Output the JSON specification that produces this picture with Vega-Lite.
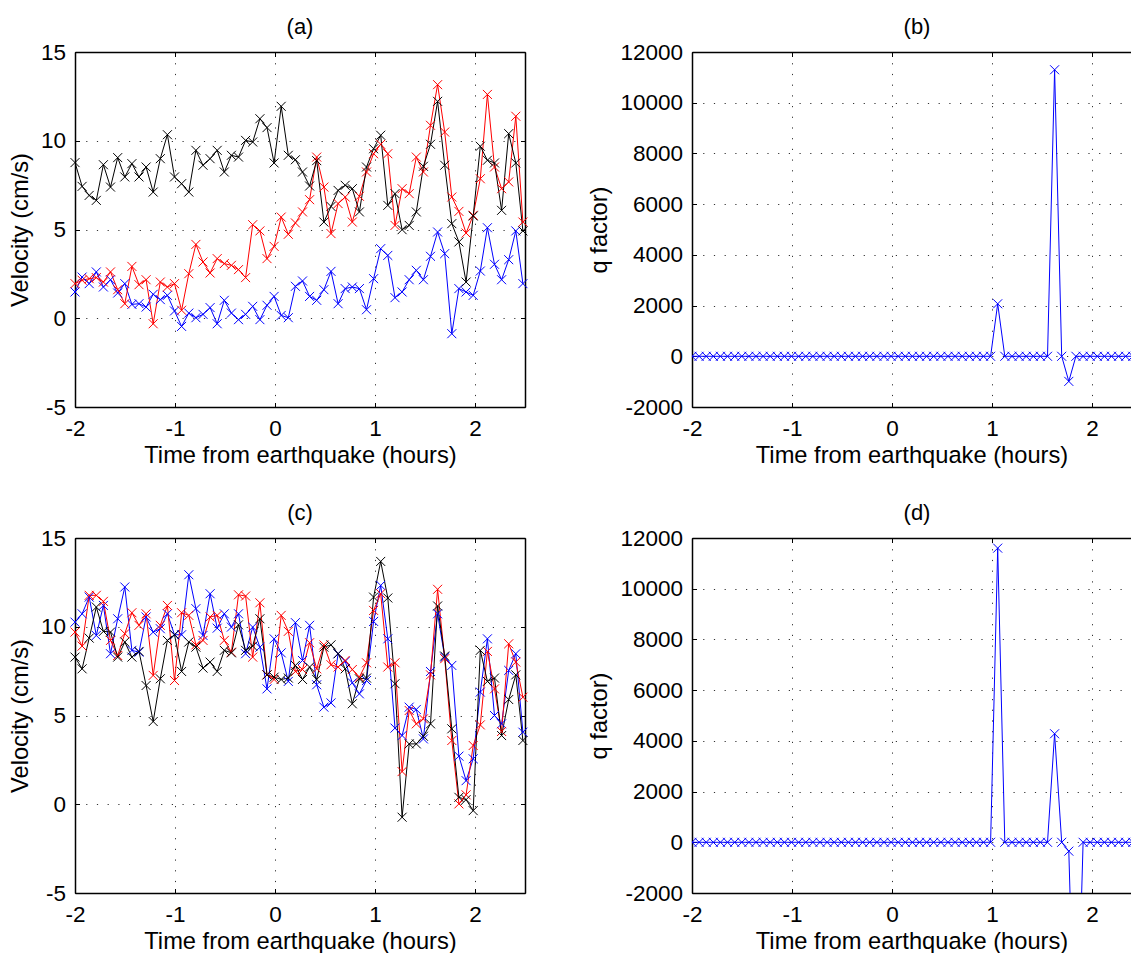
{
"$schema": "https://vega.github.io/schema/vega-lite/v6.json",
"padding": {"left": 8, "top": 15, "right": 0, "bottom": 0},
"autosize": {"type": "pad"},
"background": "white",
"config": {
 "view": {"stroke": null},
 "font": "Liberation Sans",
 "axis": {"domainColor": "#000", "domainWidth": 1.5, "tickColor": "#000", "tickWidth": 1, "tickSize": -4.5, "labelFont": "Liberation Sans", "titleFont": "Liberation Sans", "labelFontSize": 22.5, "titleFontSize": 23.7, "titleFontWeight": "normal", "labelColor": "#000", "titleColor": "#000", "gridColor": "#000", "gridOpacity": 0.8, "gridDash": [1.2, 9.5], "gridWidth": 1, "labelFlush": false, "labelOverlap": false, "labelBound": false},
 "axisX": {"labelPadding": 15.25, "titlePadding": 3},
 "axisY": {"labelPadding": 14, "titlePadding": 8},
 "title": {"fontSize": 22, "font": "Liberation Sans", "fontWeight": "normal", "color": "#000", "baseline": "alphabetic", "offset": 2.5}
},
"datasets": {
 "va": [
{"t":-2,"s":"s1","v":1.48},{"t":-1.929,"s":"s1","v":2.32},{"t":-1.858,"s":"s1","v":1.95},{"t":-1.787,"s":"s1","v":2.61},{"t":-1.716,"s":"s1","v":1.76},{"t":-1.645,"s":"s1","v":2.17},{"t":-1.573,"s":"s1","v":1.42},{"t":-1.502,"s":"s1","v":1.95},{"t":-1.431,"s":"s1","v":0.78},{"t":-1.36,"s":"s1","v":0.82},
{"t":-1.289,"s":"s1","v":0.63},{"t":-1.218,"s":"s1","v":1.35},{"t":-1.147,"s":"s1","v":1.05},{"t":-1.076,"s":"s1","v":1.29},{"t":-1.005,"s":"s1","v":0.41},{"t":-0.934,"s":"s1","v":-0.46},{"t":-0.862,"s":"s1","v":0.29},{"t":-0.791,"s":"s1","v":0.03},{"t":-0.72,"s":"s1","v":0.22},{"t":-0.649,"s":"s1","v":0.6},
{"t":-0.578,"s":"s1","v":-0.31},{"t":-0.507,"s":"s1","v":1.01},{"t":-0.436,"s":"s1","v":0.29},{"t":-0.365,"s":"s1","v":-0.08},{"t":-0.294,"s":"s1","v":0.22},{"t":-0.223,"s":"s1","v":0.67},{"t":-0.151,"s":"s1","v":-0.08},{"t":-0.08,"s":"s1","v":0.73},{"t":-0.009,"s":"s1","v":1.23},{"t":0.062,"s":"s1","v":0.16},
{"t":0.133,"s":"s1","v":0.03},{"t":0.204,"s":"s1","v":1.8},{"t":0.275,"s":"s1","v":2.1},{"t":0.346,"s":"s1","v":1.23},{"t":0.417,"s":"s1","v":1.01},{"t":0.489,"s":"s1","v":1.61},{"t":0.56,"s":"s1","v":2.64},{"t":0.631,"s":"s1","v":0.82},{"t":0.702,"s":"s1","v":1.67},{"t":0.773,"s":"s1","v":1.76},
{"t":0.844,"s":"s1","v":1.67},{"t":0.915,"s":"s1","v":0.48},{"t":0.986,"s":"s1","v":2.23},{"t":1.057,"s":"s1","v":3.92},{"t":1.128,"s":"s1","v":3.54},{"t":1.2,"s":"s1","v":1.16},{"t":1.271,"s":"s1","v":1.48},{"t":1.342,"s":"s1","v":2.17},{"t":1.413,"s":"s1","v":2.7},{"t":1.484,"s":"s1","v":2.17},
{"t":1.555,"s":"s1","v":3.49},{"t":1.626,"s":"s1","v":4.86},{"t":1.697,"s":"s1","v":3.64},{"t":1.768,"s":"s1","v":-0.87},{"t":1.839,"s":"s1","v":1.67},{"t":1.911,"s":"s1","v":1.48},{"t":1.982,"s":"s1","v":1.29},{"t":2.053,"s":"s1","v":2.66},{"t":2.124,"s":"s1","v":5.1},{"t":2.195,"s":"s1","v":3.04},
{"t":2.266,"s":"s1","v":2.17},{"t":2.337,"s":"s1","v":3.3},{"t":2.408,"s":"s1","v":4.92},{"t":2.479,"s":"s1","v":1.95},
{"t":-2,"s":"s2","v":1.95},{"t":-1.929,"s":"s2","v":2.14},{"t":-1.858,"s":"s2","v":2.23},{"t":-1.787,"s":"s2","v":2.29},{"t":-1.716,"s":"s2","v":2.04},{"t":-1.645,"s":"s2","v":2.61},{"t":-1.573,"s":"s2","v":1.61},{"t":-1.502,"s":"s2","v":0.82},{"t":-1.431,"s":"s2","v":2.92},{"t":-1.36,"s":"s2","v":1.89},
{"t":-1.289,"s":"s2","v":2.17},{"t":-1.218,"s":"s2","v":-0.31},{"t":-1.147,"s":"s2","v":2.04},{"t":-1.076,"s":"s2","v":1.76},{"t":-1.005,"s":"s2","v":1.95},{"t":-0.934,"s":"s2","v":0.45},{"t":-0.862,"s":"s2","v":2.51},{"t":-0.791,"s":"s2","v":4.16},{"t":-0.72,"s":"s2","v":3.17},{"t":-0.649,"s":"s2","v":2.55},
{"t":-0.578,"s":"s2","v":3.36},{"t":-0.507,"s":"s2","v":3.08},{"t":-0.436,"s":"s2","v":2.98},{"t":-0.365,"s":"s2","v":2.74},{"t":-0.294,"s":"s2","v":2.29},{"t":-0.223,"s":"s2","v":5.27},{"t":-0.151,"s":"s2","v":4.92},{"t":-0.08,"s":"s2","v":3.36},{"t":-0.009,"s":"s2","v":4.05},{"t":0.062,"s":"s2","v":5.7},
{"t":0.133,"s":"s2","v":4.73},{"t":0.204,"s":"s2","v":5.37},{"t":0.275,"s":"s2","v":5.99},{"t":0.346,"s":"s2","v":6.68},{"t":0.417,"s":"s2","v":9.08},{"t":0.489,"s":"s2","v":7.39},{"t":0.56,"s":"s2","v":4.77},{"t":0.631,"s":"s2","v":6.46},{"t":0.702,"s":"s2","v":6.83},{"t":0.773,"s":"s2","v":5.42},
{"t":0.844,"s":"s2","v":6.87},{"t":0.915,"s":"s2","v":8.24},{"t":0.986,"s":"s2","v":9.27},{"t":1.057,"s":"s2","v":9.8},{"t":1.128,"s":"s2","v":9.27},{"t":1.2,"s":"s2","v":5.23},{"t":1.271,"s":"s2","v":7.3},{"t":1.342,"s":"s2","v":7.02},{"t":1.413,"s":"s2","v":9.08},{"t":1.484,"s":"s2","v":8.24},
{"t":1.555,"s":"s2","v":10.87},{"t":1.626,"s":"s2","v":13.16},{"t":1.697,"s":"s2","v":10.49},{"t":1.768,"s":"s2","v":6.83},{"t":1.839,"s":"s2","v":6.02},{"t":1.911,"s":"s2","v":4.8},{"t":1.982,"s":"s2","v":5.8},{"t":2.053,"s":"s2","v":7.86},{"t":2.124,"s":"s2","v":12.61},{"t":2.195,"s":"s2","v":8.52},
{"t":2.266,"s":"s2","v":7.3},{"t":2.337,"s":"s2","v":7.68},{"t":2.408,"s":"s2","v":11.38},{"t":2.479,"s":"s2","v":5.42},
{"t":-2,"s":"s3","v":8.77},{"t":-1.929,"s":"s3","v":7.43},{"t":-1.858,"s":"s3","v":6.92},{"t":-1.787,"s":"s3","v":6.64},{"t":-1.716,"s":"s3","v":8.65},{"t":-1.645,"s":"s3","v":7.39},{"t":-1.573,"s":"s3","v":9.05},{"t":-1.502,"s":"s3","v":7.96},{"t":-1.431,"s":"s3","v":8.71},{"t":-1.36,"s":"s3","v":7.96},
{"t":-1.289,"s":"s3","v":8.52},{"t":-1.218,"s":"s3","v":7.11},{"t":-1.147,"s":"s3","v":8.99},{"t":-1.076,"s":"s3","v":10.34},{"t":-1.005,"s":"s3","v":7.96},{"t":-0.934,"s":"s3","v":7.58},{"t":-0.862,"s":"s3","v":7.11},{"t":-0.791,"s":"s3","v":9.46},{"t":-0.72,"s":"s3","v":8.62},{"t":-0.649,"s":"s3","v":8.99},
{"t":-0.578,"s":"s3","v":9.46},{"t":-0.507,"s":"s3","v":8.24},{"t":-0.436,"s":"s3","v":9.18},{"t":-0.365,"s":"s3","v":9.08},{"t":-0.294,"s":"s3","v":10.02},{"t":-0.223,"s":"s3","v":9.93},{"t":-0.151,"s":"s3","v":11.24},{"t":-0.08,"s":"s3","v":10.74},{"t":-0.009,"s":"s3","v":8.75},{"t":0.062,"s":"s3","v":11.94},
{"t":0.133,"s":"s3","v":9.18},{"t":0.204,"s":"s3","v":8.93},{"t":0.275,"s":"s3","v":8.24},{"t":0.346,"s":"s3","v":7.45},{"t":0.417,"s":"s3","v":8.88},{"t":0.489,"s":"s3","v":5.42},{"t":0.56,"s":"s3","v":6.3},{"t":0.631,"s":"s3","v":7.2},{"t":0.702,"s":"s3","v":7.49},{"t":0.773,"s":"s3","v":7.3},
{"t":0.844,"s":"s3","v":5.99},{"t":0.915,"s":"s3","v":8.52},{"t":0.986,"s":"s3","v":9.55},{"t":1.057,"s":"s3","v":10.31},{"t":1.128,"s":"s3","v":6.36},{"t":1.2,"s":"s3","v":7.02},{"t":1.271,"s":"s3","v":4.99},{"t":1.342,"s":"s3","v":5.23},{"t":1.413,"s":"s3","v":5.99},{"t":1.484,"s":"s3","v":8.56},
{"t":1.555,"s":"s3","v":9.8},{"t":1.626,"s":"s3","v":12.22},{"t":1.697,"s":"s3","v":8.62},{"t":1.768,"s":"s3","v":5.33},{"t":1.839,"s":"s3","v":4.3},{"t":1.911,"s":"s3","v":2.04},{"t":1.982,"s":"s3","v":5.76},{"t":2.053,"s":"s3","v":9.69},{"t":2.124,"s":"s3","v":8.9},{"t":2.195,"s":"s3","v":8.75},
{"t":2.266,"s":"s3","v":6.08},{"t":2.337,"s":"s3","v":10.4},{"t":2.408,"s":"s3","v":8.75},{"t":2.479,"s":"s3","v":4.92}
 ],
 "vc": [
{"t":-2,"s":"s1","v":10.26},{"t":-1.929,"s":"s1","v":10.73},{"t":-1.858,"s":"s1","v":11.67},{"t":-1.787,"s":"s1","v":9.51},{"t":-1.716,"s":"s1","v":11.2},{"t":-1.645,"s":"s1","v":8.48},{"t":-1.573,"s":"s1","v":10.45},{"t":-1.502,"s":"s1","v":12.24},{"t":-1.431,"s":"s1","v":8.67},{"t":-1.36,"s":"s1","v":8.57},
{"t":-1.289,"s":"s1","v":10.55},{"t":-1.218,"s":"s1","v":9.7},{"t":-1.147,"s":"s1","v":9.89},{"t":-1.076,"s":"s1","v":10.73},{"t":-1.005,"s":"s1","v":9.55},{"t":-0.934,"s":"s1","v":9.55},{"t":-0.862,"s":"s1","v":12.93},{"t":-0.791,"s":"s1","v":11.02},{"t":-0.72,"s":"s1","v":9.51},{"t":-0.649,"s":"s1","v":11.86},
{"t":-0.578,"s":"s1","v":9.92},{"t":-0.507,"s":"s1","v":10.73},{"t":-0.436,"s":"s1","v":9.98},{"t":-0.365,"s":"s1","v":10.73},{"t":-0.294,"s":"s1","v":8.48},{"t":-0.223,"s":"s1","v":9.98},{"t":-0.151,"s":"s1","v":8.85},{"t":-0.08,"s":"s1","v":6.5},{"t":-0.009,"s":"s1","v":9.32},{"t":0.062,"s":"s1","v":8.53},
{"t":0.133,"s":"s1","v":6.92},{"t":0.204,"s":"s1","v":10.23},{"t":0.275,"s":"s1","v":8.1},{"t":0.346,"s":"s1","v":10.08},{"t":0.417,"s":"s1","v":6.73},{"t":0.489,"s":"s1","v":5.47},{"t":0.56,"s":"s1","v":5.71},{"t":0.631,"s":"s1","v":8.48},{"t":0.702,"s":"s1","v":8.05},{"t":0.773,"s":"s1","v":6.84},
{"t":0.844,"s":"s1","v":6.22},{"t":0.915,"s":"s1","v":6.97},{"t":0.986,"s":"s1","v":10.3},{"t":1.057,"s":"s1","v":12.33},{"t":1.128,"s":"s1","v":9.32},{"t":1.2,"s":"s1","v":4.29},{"t":1.271,"s":"s1","v":3.87},{"t":1.342,"s":"s1","v":5.47},{"t":1.413,"s":"s1","v":5.34},{"t":1.484,"s":"s1","v":3.68},
{"t":1.555,"s":"s1","v":7.48},{"t":1.626,"s":"s1","v":10.73},{"t":1.697,"s":"s1","v":8.29},{"t":1.768,"s":"s1","v":7.82},{"t":1.839,"s":"s1","v":2.71},{"t":1.911,"s":"s1","v":1.33},{"t":1.982,"s":"s1","v":2.56},{"t":2.053,"s":"s1","v":6.32},{"t":2.124,"s":"s1","v":9.32},{"t":2.195,"s":"s1","v":5.0},
{"t":2.266,"s":"s1","v":4.53},{"t":2.337,"s":"s1","v":7.54},{"t":2.408,"s":"s1","v":8.48},{"t":2.479,"s":"s1","v":4.06},
{"t":-2,"s":"s2","v":9.7},{"t":-1.929,"s":"s2","v":8.91},{"t":-1.858,"s":"s2","v":11.77},{"t":-1.787,"s":"s2","v":11.77},{"t":-1.716,"s":"s2","v":11.43},{"t":-1.645,"s":"s2","v":9.23},{"t":-1.573,"s":"s2","v":8.38},{"t":-1.502,"s":"s2","v":9.61},{"t":-1.431,"s":"s2","v":10.79},{"t":-1.36,"s":"s2","v":10.08},
{"t":-1.289,"s":"s2","v":10.73},{"t":-1.218,"s":"s2","v":7.26},{"t":-1.147,"s":"s2","v":10.08},{"t":-1.076,"s":"s2","v":11.2},{"t":-1.005,"s":"s2","v":6.97},{"t":-0.934,"s":"s2","v":10.79},{"t":-0.862,"s":"s2","v":10.64},{"t":-0.791,"s":"s2","v":8.98},{"t":-0.72,"s":"s2","v":9.23},{"t":-0.649,"s":"s2","v":10.55},
{"t":-0.578,"s":"s2","v":10.64},{"t":-0.507,"s":"s2","v":9.23},{"t":-0.436,"s":"s2","v":8.57},{"t":-0.365,"s":"s2","v":11.8},{"t":-0.294,"s":"s2","v":11.73},{"t":-0.223,"s":"s2","v":8.29},{"t":-0.151,"s":"s2","v":11.35},{"t":-0.08,"s":"s2","v":7.29},{"t":-0.009,"s":"s2","v":7.03},{"t":0.062,"s":"s2","v":10.64},
{"t":0.133,"s":"s2","v":9.74},{"t":0.204,"s":"s2","v":7.48},{"t":0.275,"s":"s2","v":7.59},{"t":0.346,"s":"s2","v":9.1},{"t":0.417,"s":"s2","v":7.63},{"t":0.489,"s":"s2","v":8.98},{"t":0.56,"s":"s2","v":7.86},{"t":0.631,"s":"s2","v":7.73},{"t":0.702,"s":"s2","v":8.1},{"t":0.773,"s":"s2","v":7.59},
{"t":0.844,"s":"s2","v":7.16},{"t":0.915,"s":"s2","v":7.97},{"t":0.986,"s":"s2","v":10.92},{"t":1.057,"s":"s2","v":11.86},{"t":1.128,"s":"s2","v":7.73},{"t":1.2,"s":"s2","v":7.97},{"t":1.271,"s":"s2","v":1.84},{"t":1.342,"s":"s2","v":5.28},{"t":1.413,"s":"s2","v":4.53},{"t":1.484,"s":"s2","v":4.81},
{"t":1.555,"s":"s2","v":7.29},{"t":1.626,"s":"s2","v":12.11},{"t":1.697,"s":"s2","v":8.2},{"t":1.768,"s":"s2","v":3.59},{"t":1.839,"s":"s2","v":0.02},{"t":1.911,"s":"s2","v":0.53},{"t":1.982,"s":"s2","v":3.31},{"t":2.053,"s":"s2","v":4.47},{"t":2.124,"s":"s2","v":8.61},{"t":2.195,"s":"s2","v":6.5},
{"t":2.266,"s":"s2","v":4.1},{"t":2.337,"s":"s2","v":9.04},{"t":2.408,"s":"s2","v":8.01},{"t":2.479,"s":"s2","v":6.03},
{"t":-2,"s":"s3","v":8.29},{"t":-1.929,"s":"s3","v":7.63},{"t":-1.858,"s":"s3","v":9.36},{"t":-1.787,"s":"s3","v":11.11},{"t":-1.716,"s":"s3","v":9.74},{"t":-1.645,"s":"s3","v":9.7},{"t":-1.573,"s":"s3","v":8.29},{"t":-1.502,"s":"s3","v":9.14},{"t":-1.431,"s":"s3","v":8.29},{"t":-1.36,"s":"s3","v":8.61},
{"t":-1.289,"s":"s3","v":6.69},{"t":-1.218,"s":"s3","v":4.66},{"t":-1.147,"s":"s3","v":7.07},{"t":-1.076,"s":"s3","v":9.23},{"t":-1.005,"s":"s3","v":9.55},{"t":-0.934,"s":"s3","v":7.48},{"t":-0.862,"s":"s3","v":9.14},{"t":-0.791,"s":"s3","v":8.85},{"t":-0.72,"s":"s3","v":7.67},{"t":-0.649,"s":"s3","v":8.01},
{"t":-0.578,"s":"s3","v":7.48},{"t":-0.507,"s":"s3","v":8.67},{"t":-0.436,"s":"s3","v":8.53},{"t":-0.365,"s":"s3","v":10.11},{"t":-0.294,"s":"s3","v":8.67},{"t":-0.223,"s":"s3","v":8.91},{"t":-0.151,"s":"s3","v":10.45},{"t":-0.08,"s":"s3","v":7.29},{"t":-0.009,"s":"s3","v":7.16},{"t":0.062,"s":"s3","v":7.03},
{"t":0.133,"s":"s3","v":7.11},{"t":0.204,"s":"s3","v":7.82},{"t":0.275,"s":"s3","v":7.03},{"t":0.346,"s":"s3","v":7.73},{"t":0.417,"s":"s3","v":7.03},{"t":0.489,"s":"s3","v":8.85},{"t":0.56,"s":"s3","v":8.98},{"t":0.631,"s":"s3","v":8.48},{"t":0.702,"s":"s3","v":7.63},{"t":0.773,"s":"s3","v":5.66},
{"t":0.844,"s":"s3","v":7.07},{"t":0.915,"s":"s3","v":7.11},{"t":0.986,"s":"s3","v":11.67},{"t":1.057,"s":"s3","v":13.68},{"t":1.128,"s":"s3","v":11.62},{"t":1.2,"s":"s3","v":6.79},{"t":1.271,"s":"s3","v":-0.73},{"t":1.342,"s":"s3","v":3.4},{"t":1.413,"s":"s3","v":3.4},{"t":1.484,"s":"s3","v":3.83},
{"t":1.555,"s":"s3","v":4.53},{"t":1.626,"s":"s3","v":11.17},{"t":1.697,"s":"s3","v":8.35},{"t":1.768,"s":"s3","v":4.25},{"t":1.839,"s":"s3","v":0.39},{"t":1.911,"s":"s3","v":0.26},{"t":1.982,"s":"s3","v":-0.36},{"t":2.053,"s":"s3","v":8.67},{"t":2.124,"s":"s3","v":6.92},{"t":2.195,"s":"s3","v":7.11},
{"t":2.266,"s":"s3","v":3.87},{"t":2.337,"s":"s3","v":5.9},{"t":2.408,"s":"s3","v":7.29},{"t":2.479,"s":"s3","v":3.59}
 ],
 "qb": [
{"t":-2,"q":0},{"t":-1.929,"q":0},{"t":-1.858,"q":0},{"t":-1.787,"q":0},{"t":-1.716,"q":0},{"t":-1.645,"q":0},{"t":-1.573,"q":0},{"t":-1.502,"q":0},{"t":-1.431,"q":0},{"t":-1.36,"q":0},
{"t":-1.289,"q":0},{"t":-1.218,"q":0},{"t":-1.147,"q":0},{"t":-1.076,"q":0},{"t":-1.005,"q":0},{"t":-0.934,"q":0},{"t":-0.862,"q":0},{"t":-0.791,"q":0},{"t":-0.72,"q":0},{"t":-0.649,"q":0},
{"t":-0.578,"q":0},{"t":-0.507,"q":0},{"t":-0.436,"q":0},{"t":-0.365,"q":0},{"t":-0.294,"q":0},{"t":-0.223,"q":0},{"t":-0.151,"q":0},{"t":-0.08,"q":0},{"t":-0.009,"q":0},{"t":0.062,"q":0},
{"t":0.133,"q":0},{"t":0.204,"q":0},{"t":0.275,"q":0},{"t":0.346,"q":0},{"t":0.417,"q":0},{"t":0.489,"q":0},{"t":0.56,"q":0},{"t":0.631,"q":0},{"t":0.702,"q":0},{"t":0.773,"q":0},
{"t":0.844,"q":0},{"t":0.915,"q":0},{"t":0.986,"q":0},{"t":1.057,"q":2070},{"t":1.128,"q":0},{"t":1.2,"q":0},{"t":1.271,"q":0},{"t":1.342,"q":0},{"t":1.413,"q":0},{"t":1.484,"q":0},
{"t":1.555,"q":0},{"t":1.626,"q":11300},{"t":1.697,"q":0},{"t":1.768,"q":-990},{"t":1.839,"q":0},{"t":1.911,"q":0},{"t":1.982,"q":0},{"t":2.053,"q":0},{"t":2.124,"q":0},{"t":2.195,"q":0},
{"t":2.266,"q":0},{"t":2.337,"q":0},{"t":2.408,"q":0},{"t":2.479,"q":0}
 ],
 "qd": [
{"t":-2,"q":0},{"t":-1.929,"q":0},{"t":-1.858,"q":0},{"t":-1.787,"q":0},{"t":-1.716,"q":0},{"t":-1.645,"q":0},{"t":-1.573,"q":0},{"t":-1.502,"q":0},{"t":-1.431,"q":0},{"t":-1.36,"q":0},
{"t":-1.289,"q":0},{"t":-1.218,"q":0},{"t":-1.147,"q":0},{"t":-1.076,"q":0},{"t":-1.005,"q":0},{"t":-0.934,"q":0},{"t":-0.862,"q":0},{"t":-0.791,"q":0},{"t":-0.72,"q":0},{"t":-0.649,"q":0},
{"t":-0.578,"q":0},{"t":-0.507,"q":0},{"t":-0.436,"q":0},{"t":-0.365,"q":0},{"t":-0.294,"q":0},{"t":-0.223,"q":0},{"t":-0.151,"q":0},{"t":-0.08,"q":0},{"t":-0.009,"q":0},{"t":0.062,"q":0},
{"t":0.133,"q":0},{"t":0.204,"q":0},{"t":0.275,"q":0},{"t":0.346,"q":0},{"t":0.417,"q":0},{"t":0.489,"q":0},{"t":0.56,"q":0},{"t":0.631,"q":0},{"t":0.702,"q":0},{"t":0.773,"q":0},
{"t":0.844,"q":0},{"t":0.915,"q":0},{"t":0.986,"q":0},{"t":1.057,"q":11600},{"t":1.128,"q":0},{"t":1.2,"q":0},{"t":1.271,"q":0},{"t":1.342,"q":0},{"t":1.413,"q":0},{"t":1.484,"q":0},
{"t":1.555,"q":0},{"t":1.626,"q":4280},{"t":1.697,"q":0},{"t":1.768,"q":-350},{"t":1.839,"q":-10000},{"t":1.911,"q":0},{"t":1.982,"q":0},{"t":2.053,"q":0},{"t":2.124,"q":0},{"t":2.195,"q":0},
{"t":2.266,"q":0},{"t":2.337,"q":0},{"t":2.408,"q":0},{"t":2.479,"q":0}
 ]
},
"columns": 2,
"spacing": {"row": 131, "column": 167},
"bounds": "flush",
"concat": [
 {"width": 450, "height": 355, "title": {"text": "(a)"}, "data": {"name": "va"},
  "layer": [
   {"mark": {"type": "line", "strokeWidth": 1, "clip": true},
    "encoding": {
     "x": {"field": "t", "type": "quantitative", "scale": {"domain": [-2, 2.5], "nice": false, "zero": false}, "axis": {"orient": "bottom", "values": [-2, -1, 0, 1, 2], "title": "Time from earthquake (hours)", "grid": true, "labelExpr": "replace(datum.label, '−', '-')"}},
     "y": {"field": "v", "type": "quantitative", "scale": {"domain": [-5, 15], "nice": false, "zero": false}, "axis": {"orient": "left", "values": [-5, 0, 5, 10, 15], "title": "Velocity (cm/s)", "grid": true, "labelExpr": "replace(datum.label, '−', '-')"}},
     "color": {"field": "s", "type": "nominal", "scale": {"domain": ["s1", "s2", "s3"], "range": ["#0000ff", "#ff0000", "#000000"]}, "legend": null}
    }},
   {"mark": {"type": "point", "shape": "M-1,-1L1,1M-1,1L1,-1", "filled": false, "size": 81, "strokeWidth": 1, "opacity": 1},
    "encoding": {
     "x": {"field": "t", "type": "quantitative", "axis": {"orient": "top", "values": [-2, -1, 0, 1, 2], "labels": false, "title": null, "grid": false}},
     "y": {"field": "v", "type": "quantitative", "axis": {"orient": "right", "values": [-5, 0, 5, 10, 15], "labels": false, "title": null, "grid": false}},
     "color": {"field": "s", "type": "nominal", "legend": null}
    }}
  ],
  "resolve": {"axis": {"x": "independent", "y": "independent"}}
 },
 {"width": 439, "height": 355, "title": {"text": "(b)", "dx": 5.5}, "data": {"name": "qb"},
  "layer": [
   {"mark": {"type": "line", "strokeWidth": 1, "clip": true, "color": "#0000ff"},
    "encoding": {
     "x": {"field": "t", "type": "quantitative", "scale": {"domain": [-2, 2.39], "nice": false, "zero": false}, "axis": {"orient": "bottom", "values": [-2, -1, 0, 1, 2], "title": "Time from earthquake (hours)", "grid": true, "labelExpr": "replace(datum.label, '−', '-')"}},
     "y": {"field": "q", "type": "quantitative", "scale": {"domain": [-2000, 12000], "nice": false, "zero": false}, "axis": {"orient": "left", "values": [-2000, 0, 2000, 4000, 6000, 8000, 10000, 12000], "format": "d", "title": "q factor)", "grid": true, "labelExpr": "replace(datum.label, '−', '-')"}}
    }},
   {"mark": {"type": "point", "shape": "M-1,-1L1,1M-1,1L1,-1", "filled": false, "size": 81, "strokeWidth": 1, "opacity": 1, "color": "#0000ff", "clip": true},
    "encoding": {
     "x": {"field": "t", "type": "quantitative", "axis": {"orient": "top", "values": [-2, -1, 0, 1, 2], "labels": false, "title": null, "grid": false}},
     "y": {"field": "q", "type": "quantitative", "axis": null}
    }}
  ],
  "resolve": {"axis": {"x": "independent", "y": "independent"}}
 },
 {"width": 450, "height": 355, "title": {"text": "(c)"}, "data": {"name": "vc"},
  "layer": [
   {"mark": {"type": "line", "strokeWidth": 1, "clip": true},
    "encoding": {
     "x": {"field": "t", "type": "quantitative", "scale": {"domain": [-2, 2.5], "nice": false, "zero": false}, "axis": {"orient": "bottom", "values": [-2, -1, 0, 1, 2], "title": "Time from earthquake (hours)", "grid": true, "labelExpr": "replace(datum.label, '−', '-')"}},
     "y": {"field": "v", "type": "quantitative", "scale": {"domain": [-5, 15], "nice": false, "zero": false}, "axis": {"orient": "left", "values": [-5, 0, 5, 10, 15], "title": "Velocity (cm/s)", "grid": true, "labelExpr": "replace(datum.label, '−', '-')"}},
     "color": {"field": "s", "type": "nominal", "scale": {"domain": ["s1", "s2", "s3"], "range": ["#0000ff", "#ff0000", "#000000"]}, "legend": null}
    }},
   {"mark": {"type": "point", "shape": "M-1,-1L1,1M-1,1L1,-1", "filled": false, "size": 81, "strokeWidth": 1, "opacity": 1},
    "encoding": {
     "x": {"field": "t", "type": "quantitative", "axis": {"orient": "top", "values": [-2, -1, 0, 1, 2], "labels": false, "title": null, "grid": false}},
     "y": {"field": "v", "type": "quantitative", "axis": {"orient": "right", "values": [-5, 0, 5, 10, 15], "labels": false, "title": null, "grid": false}},
     "color": {"field": "s", "type": "nominal", "legend": null}
    }}
  ],
  "resolve": {"axis": {"x": "independent", "y": "independent"}}
 },
 {"width": 439, "height": 355, "title": {"text": "(d)", "dx": 5.5}, "data": {"name": "qd"},
  "layer": [
   {"mark": {"type": "line", "strokeWidth": 1, "clip": true, "color": "#0000ff"},
    "encoding": {
     "x": {"field": "t", "type": "quantitative", "scale": {"domain": [-2, 2.39], "nice": false, "zero": false}, "axis": {"orient": "bottom", "values": [-2, -1, 0, 1, 2], "title": "Time from earthquake (hours)", "grid": true, "labelExpr": "replace(datum.label, '−', '-')"}},
     "y": {"field": "q", "type": "quantitative", "scale": {"domain": [-2000, 12000], "nice": false, "zero": false}, "axis": {"orient": "left", "values": [-2000, 0, 2000, 4000, 6000, 8000, 10000, 12000], "format": "d", "title": "q factor)", "grid": true, "labelExpr": "replace(datum.label, '−', '-')"}}
    }},
   {"mark": {"type": "point", "shape": "M-1,-1L1,1M-1,1L1,-1", "filled": false, "size": 81, "strokeWidth": 1, "opacity": 1, "color": "#0000ff", "clip": true},
    "encoding": {
     "x": {"field": "t", "type": "quantitative", "axis": {"orient": "top", "values": [-2, -1, 0, 1, 2], "labels": false, "title": null, "grid": false}},
     "y": {"field": "q", "type": "quantitative", "axis": null}
    }}
  ],
  "resolve": {"axis": {"x": "independent", "y": "independent"}}
 }
]
}
